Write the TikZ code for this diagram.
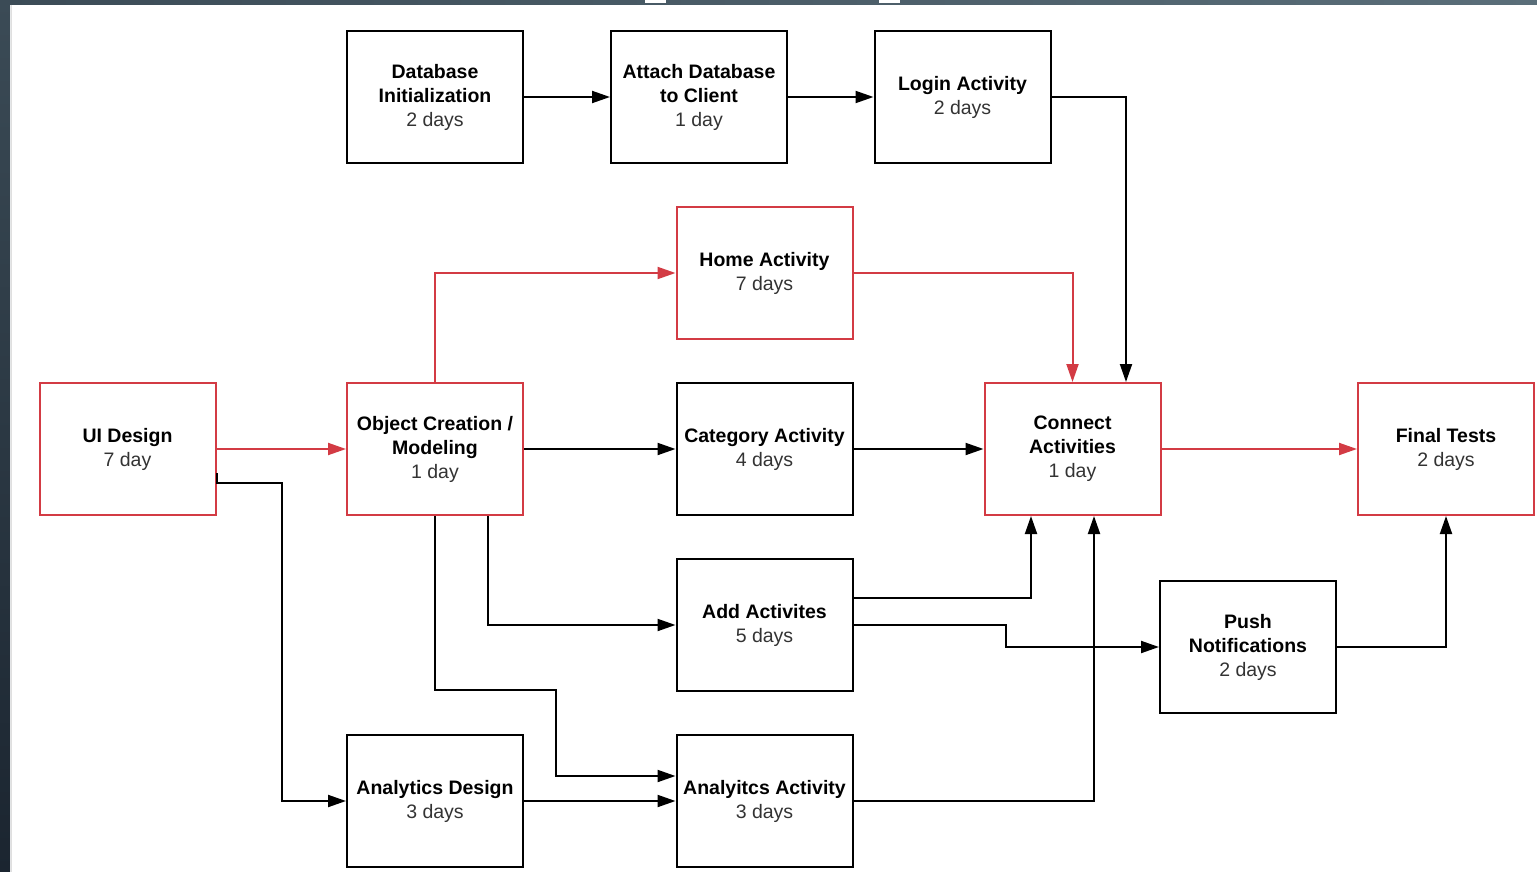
\documentclass[tikz,border=0pt]{standalone}
\usepackage{fontspec}
\setmainfont{Liberation Sans}
\usetikzlibrary{arrows.meta}
\definecolor{crit}{HTML}{D33B44}
\definecolor{daytext}{HTML}{333333}
\definecolor{frameA}{HTML}{3B4B56}
\definecolor{frameB}{HTML}{1B2530}
\definecolor{frameC}{HTML}{5A6E79}
\newcommand{\tl}[1]{\textbf{#1}}
\newcommand{\dy}[1]{\textcolor{daytext}{#1}}
\begin{document}
\begin{tikzpicture}[x=1pt,y=-1pt,
  task/.style={draw=black, line width=2pt, fill=white, minimum width=176pt,
    minimum height=132pt, inner sep=0pt, align=center,
    font=\fontsize{19.5}{24}\selectfont, text=black},
  crittask/.style={task, draw=crit},
  link/.style={line width=2pt, draw=black, -{Triangle[length=18pt,width=12pt]}},
  critlink/.style={link, draw=crit}]
\useasboundingbox (0,0) rectangle (1537,872);
\fill[white] (0,0) rectangle (1537,872);
% window frame around the canvas
\shade[top color=frameA, bottom color=frameB] (0,0) rectangle (10,872);
\shade[left color=frameA, right color=frameC] (0,0) rectangle (1537,5);
\fill[white] (645,0) rectangle (666,3);
\fill[white] (879,0) rectangle (900,3);
\draw[gray!25, line width=1.5pt] (11.5,5) -- (11.5,872);

% tasks
\node[task] (db) at (435,97) {\tl{Database}\\\tl{Initialization}\\\dy{2 days}};
\node[task] (attach) at (699,97) {\tl{Attach Database}\\\tl{to Client}\\\dy{1 day}};
\node[task] (login) at (962.5,97) {\tl{Login Activity}\\\dy{2 days}};
\node[crittask] (home) at (764.5,273) {\tl{Home Activity}\\\dy{7 days}};
\node[crittask] (ui) at (127.5,449) {\tl{UI Design}\\\dy{7 day}};
\node[crittask] (obj) at (435,449) {\tl{Object Creation /}\\\tl{Modeling}\\\dy{1 day}};
\node[task] (cat) at (764.5,449) {\tl{Category Activity}\\\dy{4 days}};
\node[crittask] (conn) at (1072.5,449) {\tl{Connect}\\\tl{Activities}\\\dy{1 day}};
\node[crittask] (final) at (1446,449) {\tl{Final Tests}\\\dy{2 days}};
\node[task] (add) at (764.5,625) {\tl{Add Activites}\\\dy{5 days}};
\node[task] (push) at (1248,647) {\tl{Push}\\\tl{Notifications}\\\dy{2 days}};
\node[task] (ad) at (435,801) {\tl{Analytics Design}\\\dy{3 days}};
\node[task] (aa) at (764.5,801) {\tl{Analyitcs Activity}\\\dy{3 days}};

% bends
\coordinate (j1) at (556,690);
\coordinate (j2) at (1006,625);

% dependencies
\draw[link] (db.east) -- (attach.west);
\draw[link] (attach.east) -- (login.west);
\draw[link] (login.east) -| ([xshift=53.5pt]conn.north);
\draw[critlink] (ui.east) -- (obj.west);
\draw[critlink] (obj.north) |- (home.west);
\draw[critlink] (home.east) -| (conn.north);
\draw[link] (obj.east) -- (cat.west);
\draw[link] (cat.east) -- (conn.west);
\draw[critlink] (conn.east) -- (final.west);
\draw[link] ([yshift=-24pt]ui.east) -- ([yshift=-34pt]ui.east) -- ([yshift=-34pt,xshift=65pt]ui.east) |- (ad.west);
\draw[link] ([xshift=53pt]obj.south) |- (add.west);
\draw[link] (obj.south) |- (j1) |- ([yshift=25pt]aa.west);
\draw[link] (ad.east) -- (aa.west);
\draw[link] (aa.east) -| ([xshift=21.5pt]conn.south);
\draw[link] ([yshift=27pt]add.east) -| ([xshift=-41.5pt]conn.south);
\draw[link] (add.east) -- (j2) |- (push.west);
\draw[link] (push.east) -| (final.south);
\end{tikzpicture}
\end{document}
